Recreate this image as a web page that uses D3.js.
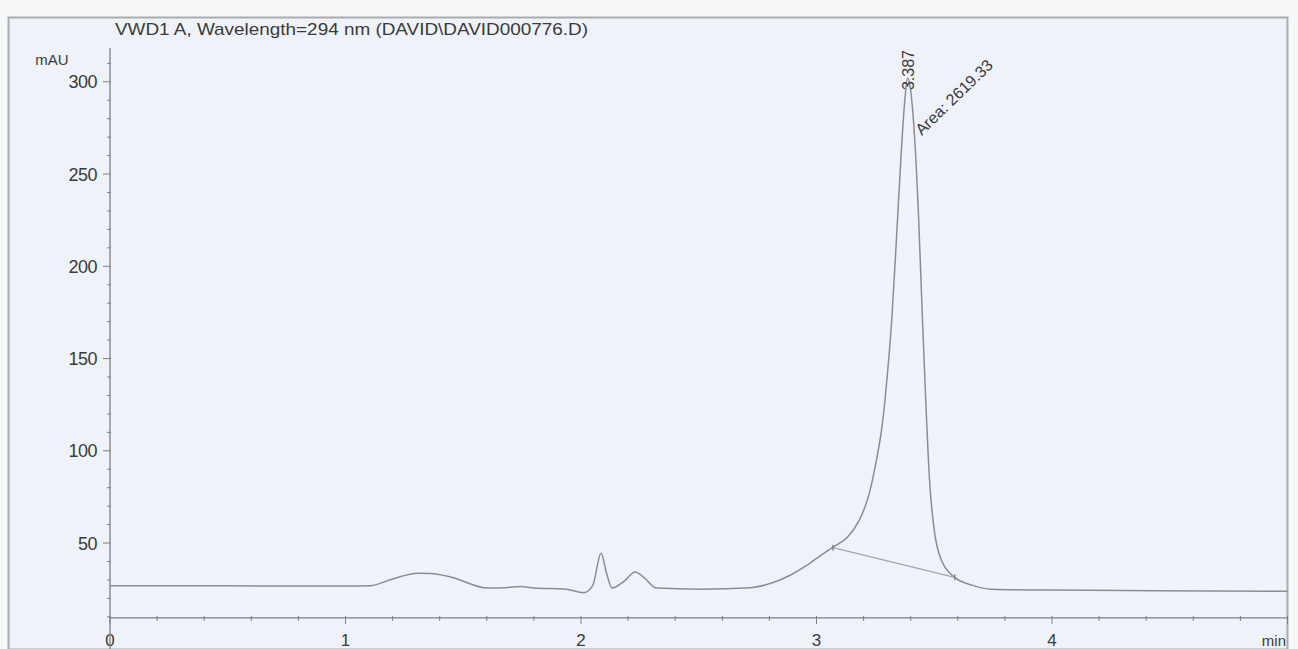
<!DOCTYPE html>
<html>
<head>
<meta charset="utf-8">
<script src="https://cdn.jsdelivr.net/npm/d3@7"></script>
<style>
  html, body { margin: 0; padding: 0; background: #f7f8fa; }
  svg { display: block; }
  text { font-family: "Liberation Sans", Arial, sans-serif; fill: #3a3a3a; }
</style>
</head>
<body>
<script>
// ---- data ----
const times = [0, 0.5, 1.0, 1.106, 1.2, 1.306, 1.362, 1.45, 1.604, 1.68, 1.745, 1.8, 1.928, 2.013, 2.05, 2.085, 2.11, 2.132, 2.18, 2.23, 2.27, 2.32, 2.51, 2.72, 2.81, 2.89, 2.96, 3.02, 3.07, 3.13, 3.18, 3.22, 3.25, 3.28, 3.30, 3.32, 3.34, 3.36, 3.375, 3.387, 3.40, 3.417, 3.434, 3.45, 3.464, 3.48, 3.50, 3.53, 3.587, 3.66, 3.745, 4.0, 4.43, 5.0];
const signal = [26.8, 26.8, 26.7, 26.9, 30.5, 33.6, 33.5, 31.5, 25.6, 25.8, 26.5, 25.6, 25.1, 23.1, 27, 44.5, 33, 25.6, 29, 34.3, 31, 25.6, 25.0, 25.8, 28.3, 32.7, 38, 43.5, 47.8, 53, 62, 75, 92, 115, 140, 172, 216, 262, 290, 302, 295, 269, 225, 171, 127, 84, 57, 40.8, 31.4, 27.2, 25, 24.5, 24.2, 23.9];
const baselineTimes = [3.07, 3.587];
const baselineValues = [47.5, 31.4];
const yTickValues = [50, 100, 150, 200, 250, 300];
const xTickValues = [0, 1, 2, 3, 4];
const peakRT = "3.387";
const peakArea = "Area: 2619.33";
const title = "VWD1 A, Wavelength=294 nm (DAVID\\DAVID000776.D)";
const yUnit = "mAU";
const xUnit = "min";

// ---- layout ----
const W = 1298, H = 649;
const svg = d3.select("body").append("svg").attr("width", W).attr("height", H);

// frame
svg.append("rect").attr("x", 8.5).attr("y", 17.5).attr("width", 1279).attr("height", 632)
  .attr("fill", "#eff3f9").attr("stroke", "#a9abae").attr("stroke-width", 2);

const x = d3.scaleLinear().domain([0, 5]).range([110, 1287.5]);
const y = d3.scaleLinear().domain([0, 300]).range([635.3, 81.8]);
const yMin = 9.4, yMax = 314;

const axisColor = "#7d7f82";
const g = svg.append("g");

// x axis line
g.append("line").attr("x1", x(0)).attr("x2", x(5)).attr("y1", y(yMin)).attr("y2", y(yMin))
  .attr("stroke", axisColor).attr("stroke-width", 1.3);
d3.range(0, 5.001, 0.2).forEach(t => {
  const isMajor = Math.abs(t - Math.round(t)) < 1e-6;
  g.append("line").attr("x1", x(t)).attr("x2", x(t))
    .attr("y1", y(yMin) - 2).attr("y2", y(yMin) + (isMajor ? 6 : 3))
    .attr("stroke", axisColor).attr("stroke-width", 1);
});
xTickValues.forEach(t => {
  g.append("text").attr("x", x(t)).attr("y", 646).attr("text-anchor", "middle")
    .attr("font-size", 17).text(t);
});
g.append("text").attr("x", 1286).attr("y", 646).attr("text-anchor", "end")
  .attr("font-size", 15).text(xUnit);

// y axis line
g.append("line").attr("x1", x(0)).attr("x2", x(0)).attr("y1", y(yMax) - 8).attr("y2", 649)
  .attr("stroke", axisColor).attr("stroke-width", 1.3);
d3.range(10, 311, 10).forEach(v => {
  const isMajor = v % 50 === 0;
  g.append("line").attr("x1", x(0) - (isMajor ? 7 : 3)).attr("x2", x(0) + 1)
    .attr("y1", y(v)).attr("y2", y(v)).attr("stroke", axisColor).attr("stroke-width", 1);
});
yTickValues.forEach(v => {
  g.append("text").attr("x", 97).attr("y", y(v)).attr("dy", "0.36em").attr("text-anchor", "end")
    .attr("font-size", 18).attr("letter-spacing", -0.5).text(v);
});
g.append("text").attr("x", 52).attr("y", 65).attr("text-anchor", "middle")
  .attr("font-size", 15).text(yUnit);

// title
g.append("text").attr("x", 115).attr("y", 35).attr("font-size", 17)
  .attr("textLength", 473).attr("lengthAdjust", "spacingAndGlyphs").text(title);

// signal line
const pts = times.map((t, i) => [t, signal[i]]);
const line = d3.line().x(d => x(d[0])).y(d => y(d[1])).curve(d3.curveMonotoneX);
g.append("path").datum(pts).attr("d", line).attr("fill", "none")
  .attr("stroke", "#8a8c90").attr("stroke-width", 1.5);

// integration baseline
const bpts = baselineTimes.map((t, i) => [t, baselineValues[i]]);
g.append("path").datum(bpts).attr("d", d3.line().x(d => x(d[0])).y(d => y(d[1])))
  .attr("fill", "none").attr("stroke", "#a4a6aa").attr("stroke-width", 1.2);
bpts.forEach(d => {
  g.append("line").attr("x1", x(d[0])).attr("x2", x(d[0])).attr("y1", y(d[1]) - 3).attr("y2", y(d[1]) + 3)
    .attr("stroke", "#777").attr("stroke-width", 1.2);
});

// peak labels
const px = x(+peakRT), py = y(302);
g.append("text").attr("transform", `translate(${px + 6},${py + 12}) rotate(-90)`)
  .attr("font-size", 16).text(peakRT);
g.append("text").attr("transform", `translate(${px + 14},${py + 58}) rotate(-44)`)
  .attr("font-size", 16).text(peakArea);
</script>
</body>
</html>
